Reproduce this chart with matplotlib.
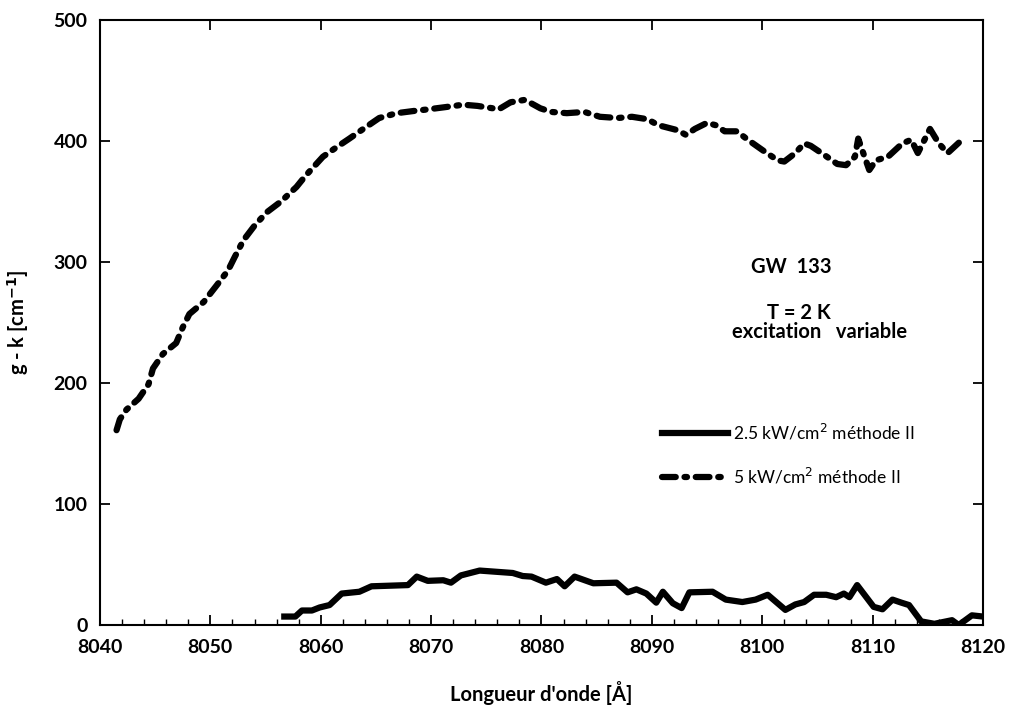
import matplotlib
matplotlib.use("Agg")
import matplotlib.pyplot as plt
from matplotlib.ticker import MultipleLocator

plt.rcParams['font.family'] = ['Lato', 'DejaVu Sans']

# 2.5 kW/cm2, methode II (solid)
x_25 = [8056.7, 8057.7, 8058.3, 8059.2, 8059.9, 8060.8, 8061.9, 8063.5, 8064.6, 8067.9,
        8068.7, 8069.7, 8071.1, 8071.8, 8072.7, 8074.4, 8077.4, 8078.3, 8079.1, 8080.4,
        8081.4, 8082.1, 8083.0, 8084.7, 8086.8, 8087.8, 8088.6, 8089.5, 8090.4, 8091.0,
        8091.9, 8092.7, 8093.4, 8095.5, 8096.7, 8098.2, 8099.4, 8100.5, 8102.1, 8103.0,
        8103.8, 8104.7, 8105.8, 8106.7, 8107.4, 8107.9, 8108.6, 8110.1, 8110.9, 8111.8,
        8112.6, 8113.3, 8114.4, 8115.6, 8117.2, 8117.8, 8119.0, 8120.0]
y_25 = [7, 7, 12, 12, 14.5, 16.5, 26, 27.5, 32, 33,
        40, 36.5, 37, 35, 41, 45, 43, 40.5, 40, 35,
        38, 32, 40, 34.5, 35, 27, 29.5, 26, 18.5, 27.5,
        18, 14, 27, 27.5, 21, 19, 21, 25, 12.5, 17,
        19, 25, 25, 23, 26, 23, 33, 15, 13, 21,
        18.5, 16.5, 3, 1, 4, 0, 8, 7]

# 5 kW/cm2, methode II (dash-dot)
x_5 = [8041.5, 8041.8, 8042.4, 8043.5, 8044.4, 8044.8, 8045.7, 8046.9, 8047.5, 8048.1,
       8049.4, 8050.6, 8051.6, 8052.2, 8053.0, 8054.0, 8055.1, 8056.4, 8057.8, 8058.6,
       8060.2, 8061.3, 8062.6, 8063.7, 8065.3, 8066.9, 8068.6, 8069.6, 8071.3, 8072.9,
       8074.2, 8075.6, 8076.1, 8077.2, 8078.5, 8079.9, 8080.9, 8082.3, 8083.9, 8085.3,
       8086.9, 8088.2, 8089.6, 8090.6, 8092.3, 8093.1, 8093.9, 8095.0, 8095.8, 8096.6,
       8097.7, 8098.7, 8100.1, 8101.4, 8102.0, 8103.0, 8103.8, 8104.4, 8105.7, 8106.8,
       8107.6, 8108.4, 8108.7, 8109.0, 8109.7, 8110.3, 8111.4, 8112.7, 8113.5, 8114.1,
       8115.2, 8116.0, 8116.8, 8118.1]
y_5 = [161, 170, 178, 187, 199, 212, 224, 233, 246, 257,
       267, 281, 293, 304, 318, 330, 341, 350, 362, 371,
       387, 394, 402, 409, 419, 423, 425, 426, 428, 430,
       429, 427, 426, 432, 434, 427, 424, 423, 424, 420,
       419, 420, 418, 413, 409, 405, 410, 415, 413, 408,
       408, 401, 392, 384, 383, 390, 398, 396, 388, 381,
       380, 387, 402, 394, 376, 384, 387, 398, 401, 390,
       410, 398, 390, 401]

fig = plt.figure(figsize=(10.12, 7.06), dpi=100)
ax = fig.add_axes([0.0988, 0.1147, 0.8725, 0.857])

ax.plot(x_25, y_25, color='black', lw=4.5, solid_joinstyle='round',
        label='2.5 kW/cm$^2$ méthode II')
ax.plot(x_5, y_5, color='black', lw=4.5, dashes=(2.2, 1.4, 0.4, 1.4),
        dash_capstyle='round', label='5 kW/cm$^2$ méthode II')

ax.set_xlim(8040, 8120)
ax.set_ylim(0, 500)
ax.xaxis.set_major_locator(MultipleLocator(10))
ax.xaxis.set_minor_locator(MultipleLocator(2))
ax.yaxis.set_major_locator(MultipleLocator(100))
ax.tick_params(which='major', direction='in', length=7, width=1.3,
               top=True, right=True, labelsize=14)
ax.tick_params(axis='x', which='major', pad=10)
ax.tick_params(axis='y', which='major', pad=9)
ax.tick_params(which='minor', direction='in', length=4, width=1.0,
               top=False, right=False)
for lab in ax.get_xticklabels() + ax.get_yticklabels():
    lab.set_fontweight('bold')
for s in ax.spines.values():
    s.set_linewidth(1.5)

ax.set_xlabel("Longueur d'onde [Å]", fontsize=14.5, fontweight='bold', labelpad=18)
ax.set_ylabel("g - k [cm$^{\\mathbf{-1}}$]", fontsize=14.5, fontweight='bold', labelpad=16)

ax.text(8102.6, 296, "GW  133", fontsize=14.5, fontweight='bold', ha='center', va='center')
ax.text(8103.3, 258, "T = 2 K", fontsize=14.5, fontweight='bold', ha='center', va='center')
ax.text(8105.2, 242, "excitation   variable", fontsize=14.5, fontweight='bold',
        ha='center', va='center')

ax.legend(loc='upper left', bbox_to_anchor=(0.627, 0.35), frameon=False,
          fontsize=12.5, handlelength=3.8, handletextpad=0.3, labelspacing=1.4,
          borderpad=0)

fig.savefig('out.png', dpi=100)
